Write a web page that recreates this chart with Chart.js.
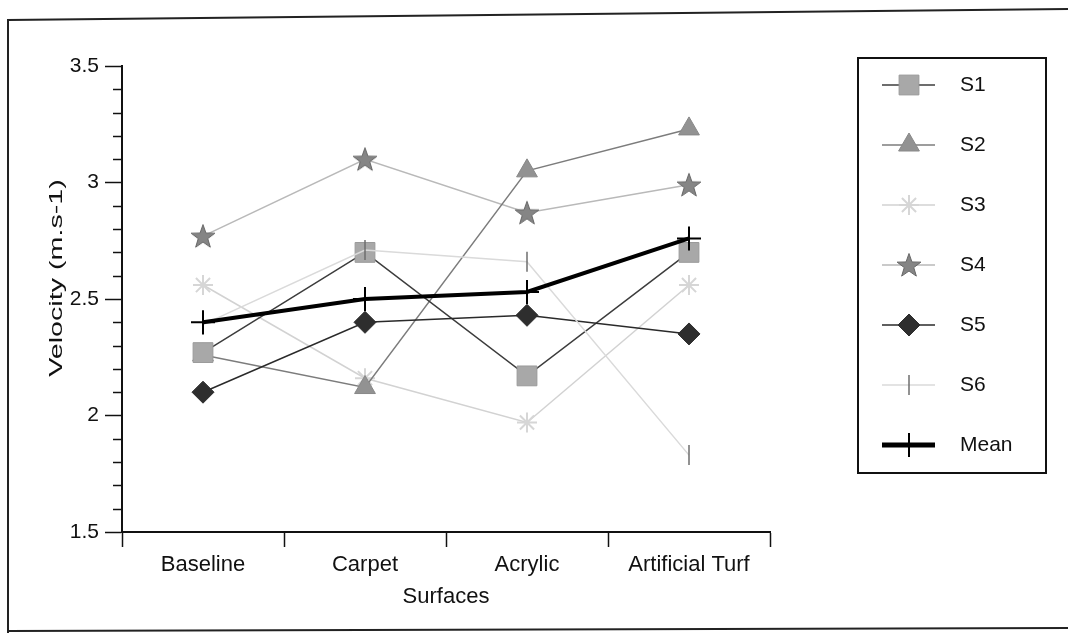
<!DOCTYPE html>
<html>
<head>
<meta charset="utf-8">
<script src="https://cdn.jsdelivr.net/npm/chart.js@4.4.1/dist/chart.umd.min.js"></script>
<style>
  html, body { margin: 0; padding: 0; background: #fff; }
  #wrap { width: 1068px; height: 633px; }
</style>
</head>
<body>
<div id="wrap"><canvas id="chart"></canvas></div>
<script>
// values
const surfaces = ['Baseline', 'Carpet', 'Acrylic', 'Artificial Turf'];
const s1 = [2.27, 2.70, 2.17, 2.70];
const s2 = [2.26, 2.12, 3.05, 3.23];
const s3 = [2.56, 2.16, 1.97, 2.56];
const s4 = [2.77, 3.10, 2.87, 2.99];
const s5 = [2.10, 2.40, 2.43, 2.35];
const s6 = [2.39, 2.71, 2.66, 1.83];
const mean = [2.40, 2.50, 2.53, 2.76];
const yTicks = [1.5, 2, 2.5, 3, 3.5];

const FONT = '"Liberation Sans", Arial, sans-serif';

// filled five-point star used as the S4 marker
const starMarker = (() => {
    const c = document.createElement('canvas');
    c.width = 26; c.height = 26;
    const g = c.getContext('2d');
    g.beginPath();
    for (let i = 0; i < 10; i++) {
        const r = i % 2 ? 5 : 12.5;
        const a = -Math.PI / 2 + i * Math.PI / 5;
        g.lineTo(13 + r * Math.cos(a), 14 + r * Math.sin(a));
    }
    g.closePath();
    g.fillStyle = '#858585';
    g.fill();
    g.strokeStyle = '#666';
    g.lineWidth = 1;
    g.stroke();
    return c;
})();

function line(label, data, color, width, marker) {
    return Object.assign({
        label: label,
        data: data,
        borderColor: color,
        borderWidth: width,
        backgroundColor: color,
        tension: 0,
        fill: false
    }, marker);
}

const datasets = [
    line('S1', s1, '#3c3c3c', 1.5, { pointStyle: 'rect', pointRadius: 14, pointBackgroundColor: '#a8a8a8', pointBorderColor: '#9a9a9a', pointBorderWidth: 1, order: 3 }),
    line('S2', s2, '#7c7c7c', 1.5, { pointStyle: 'triangle', pointRadius: 12, pointBackgroundColor: '#929292', pointBorderColor: '#888', pointBorderWidth: 1, order: 4 }),
    line('S3', s3, '#d2d2d2', 1.5, { pointStyle: 'star', pointRadius: 10, pointBackgroundColor: '#d8d8d8', pointBorderColor: '#d6d6d6', pointBorderWidth: 2, order: 6 }),
    line('S4', s4, '#b9b9b9', 1.5, { pointStyle: starMarker, pointRadius: 13, pointBackgroundColor: '#858585', pointBorderColor: '#666', pointBorderWidth: 0, order: 5 }),
    line('S5', s5, '#2a2a2a', 1.5, { pointStyle: 'rectRot', pointRadius: 11, pointBackgroundColor: '#2e2e2e', pointBorderColor: '#2e2e2e', pointBorderWidth: 1, order: 2 }),
    line('S6', s6, '#dadada', 1.5, { pointStyle: 'line', pointRotation: 90, pointRadius: 10, pointBackgroundColor: '#777', pointBorderColor: '#6e6e6e', pointBorderWidth: 1.5, order: 1 }),
    line('Mean', mean, '#000', 4, { pointStyle: 'cross', pointRadius: 12, pointBackgroundColor: '#000', pointBorderColor: '#000', pointBorderWidth: 2, order: 0 })
];

// page frame (scanned figure border, slightly skewed)
const frame = {
    id: 'frame',
    beforeDraw(chart) {
        const ctx = chart.ctx;
        ctx.save();
        ctx.fillStyle = '#fff';
        ctx.fillRect(0, 0, chart.width, chart.height);
        ctx.strokeStyle = '#222';
        ctx.lineWidth = 2;
        ctx.beginPath();
        ctx.moveTo(chart.width, 9);
        ctx.lineTo(8, 20);
        ctx.lineTo(8, chart.height);
        ctx.moveTo(8, 631);
        ctx.lineTo(chart.width, 628);
        ctx.stroke();
        ctx.restore();
    }
};

// minor ticks every 0.1 and the stretched rotated y title
const yExtras = {
    id: 'yExtras',
    afterDraw(chart) {
        const ctx = chart.ctx;
        const ys = chart.scales.y;
        const left = chart.chartArea.left;
        ctx.save();
        ctx.strokeStyle = '#111';
        ctx.lineWidth = 1.5;
        for (let k = 15; k <= 35; k++) {
            if (k % 5 === 0) continue;
            const y = Math.round(ys.getPixelForValue(k / 10)) + 0.5;
            ctx.beginPath();
            ctx.moveTo(left - 9, y);
            ctx.lineTo(left, y);
            ctx.stroke();
        }
        ctx.translate(57, 278);
        ctx.rotate(-Math.PI / 2);
        ctx.scale(1.55, 1);
        ctx.fillStyle = '#111';
        ctx.font = '18.5px ' + FONT;
        ctx.textAlign = 'center';
        ctx.textBaseline = 'middle';
        ctx.fillText('Velocity (m.s-1)', 0, 0);
        ctx.restore();
    }
};

// boxed legend on the right, line + marker + label
const legendBox = {
    id: 'legendBox',
    afterDraw(chart) {
        const ctx = chart.ctx;
        ctx.save();
        ctx.strokeStyle = '#111';
        ctx.lineWidth = 2;
        ctx.strokeRect(858, 58, 188, 415);
        chart.data.datasets.forEach((ds, i) => {
            const y = 85 + i * 60;
            ctx.strokeStyle = ds.borderColor;
            ctx.lineWidth = ds.label === 'Mean' ? 5 : ds.borderWidth;
            ctx.beginPath();
            ctx.moveTo(882, y);
            ctx.lineTo(935, y);
            ctx.stroke();
            ctx.fillStyle = ds.pointBackgroundColor;
            ctx.strokeStyle = ds.pointBorderColor;
            ctx.lineWidth = ds.pointBorderWidth;
            Chart.helpers.drawPoint(ctx, {
                pointStyle: ds.pointStyle,
                rotation: ds.pointRotation || 0,
                radius: ds.pointRadius,
                borderWidth: ds.pointBorderWidth
            }, 909, y);
            ctx.fillStyle = '#111';
            ctx.font = '21px ' + FONT;
            ctx.textAlign = 'left';
            ctx.textBaseline = 'middle';
            ctx.fillText(ds.label, 960, y);
        });
        ctx.restore();
    }
};

new Chart(document.getElementById('chart'), {
    type: 'line',
    data: { labels: surfaces, datasets: datasets },
    plugins: [frame, yExtras, legendBox],
    options: {
        responsive: true,
        maintainAspectRatio: false,
        animation: false,
        devicePixelRatio: 1,
        layout: { padding: { left: 8, top: 66, right: 298, bottom: 0 } },
        plugins: { legend: { display: false }, tooltip: { enabled: false } },
        scales: {
            x: {
                type: 'category',
                offset: true,
                grid: { offset: true, drawOnChartArea: false, tickLength: 15, tickColor: '#111', tickWidth: 1.5 },
                border: { color: '#111', width: 2 },
                ticks: { color: '#111', font: { family: FONT, size: 22 }, padding: 5, maxRotation: 0 },
                title: { display: true, text: 'Surfaces', color: '#111', font: { family: FONT, size: 22 }, padding: { top: 0, bottom: 23 } },
                afterFit(s) { s.height = 101; }
            },
            y: {
                min: 1.5,
                max: 3.5,
                afterBuildTicks(s) { s.ticks = yTicks.map(v => ({ value: v })); },
                grid: { drawOnChartArea: false, tickLength: 17, tickColor: '#111', tickWidth: 1.5 },
                border: { color: '#111', width: 2 },
                ticks: { color: '#111', font: { family: FONT, size: 21 }, padding: 6, callback: v => String(v) },
                afterFit(s) { s.width = 114; }
            }
        }
    }
});
</script>
</body>
</html>
